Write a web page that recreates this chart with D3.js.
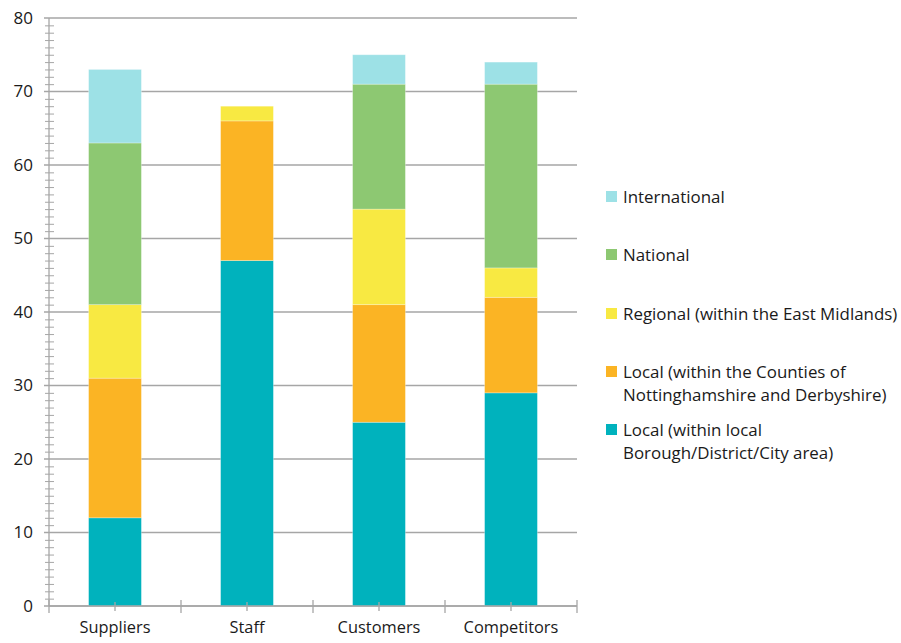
<!DOCTYPE html>
<html><head><meta charset="utf-8">
<script src="https://cdn.jsdelivr.net/npm/d3@7"></script>
<style>body{margin:0;background:#fff}svg{display:block}</style>
</head><body>
<svg id="c" width="901" height="643"></svg>
<script>
const categories = ["Suppliers", "Staff", "Customers", "Competitors"];
const seriesNames = [
  "Local (within local Borough/District/City area)",
  "Local (within the Counties of Nottinghamshire and Derbyshire)",
  "Regional (within the East Midlands)",
  "National",
  "International"
];
const localBorough = [12, 47, 25, 29];
const localCounty = [19, 19, 16, 13];
const regional = [10, 2, 13, 4];
const national = [22, 0, 17, 25];
const international = [10, 0, 4, 3];
const colors = ["#00b2bd", "#fbb424", "#f8e942", "#8dc872", "#9de1e6"];
const legendLines = [
  ["Local (within local", "Borough/District/City area)"],
  ["Local (within the Counties of", "Nottinghamshire and Derbyshire)"],
  ["Regional (within the East Midlands)"],
  ["National"],
  ["International"]
];
const yTicks = [0, 10, 20, 30, 40, 50, 60, 70, 80];

const seriesValues = [localBorough, localCounty, regional, national, international];
const rows = categories.map((c, i) => {
  const r = {cat: c};
  seriesNames.forEach((s, j) => r[s] = seriesValues[j][i]);
  return r;
});
const stacked = d3.stack().keys(seriesNames)(rows);

const svg = d3.select("#c");
const font = "'Open Sans', sans-serif";
const L = 49, R = 577, T = 18, B = 606;
const x = d3.scaleBand().domain(categories).range([L, R]).paddingInner(0.6).paddingOuter(0.3);
const xb = d3.scaleBand().domain(categories).range([L, R]);
const y = d3.scaleLinear().domain([0, 80]).range([B, T]);

// gridlines
svg.append("g").selectAll("line").data(yTicks).join("line")
  .attr("x1", L - 5).attr("x2", R).attr("y1", d => y(d)).attr("y2", d => y(d))
  .attr("stroke", "#a6a6a6").attr("stroke-width", 1.3);
// minor ticks
svg.append("g").selectAll("line").data(d3.range(0, 81).filter(d => d % 10 !== 0)).join("line")
  .attr("x1", L - 4).attr("x2", L + 5).attr("y1", d => y(d) + 0.5).attr("y2", d => y(d) + 0.5)
  .attr("stroke", "#a6a6a6").attr("stroke-width", 1);

// bars
svg.append("g").selectAll("g").data(stacked).join("g")
  .attr("fill", (d, i) => colors[i])
  .selectAll("rect").data(d => d).join("rect")
  .attr("x", d => x(d.data.cat)).attr("width", x.bandwidth())
  .attr("y", d => y(d[1])).attr("height", d => y(d[0]) - y(d[1]))
  .attr("stroke", "#ffffff").attr("stroke-opacity", 0.35).attr("stroke-width", 0.8);

// y axis line
svg.append("line").attr("x1", L).attr("x2", L).attr("y1", T).attr("y2", B)
  .attr("stroke", "#a6a6a6").attr("stroke-width", 1.3);
// x axis line
svg.append("line").attr("x1", L).attr("x2", R).attr("y1", B).attr("y2", B)
  .attr("stroke", "#a6a6a6").attr("stroke-width", 1.3);
// x boundary ticks
const bounds = categories.map(c => xb(c)).concat([R]);
svg.append("g").selectAll("line").data(bounds).join("line")
  .attr("x1", d => d).attr("x2", d => d).attr("y1", B - 6).attr("y2", B + 7)
  .attr("stroke", "#a6a6a6").attr("stroke-width", 1.3);
svg.append("g").selectAll("line").data(categories).join("line")
  .attr("x1", d => xb(d) + xb.bandwidth() / 2).attr("x2", d => xb(d) + xb.bandwidth() / 2)
  .attr("y1", B - 4).attr("y2", B + 5)
  .attr("stroke", "#a6a6a6").attr("stroke-width", 1.3);

// y labels
svg.append("g").selectAll("text").data(yTicks).join("text")
  .attr("x", 33).attr("y", d => y(d)).attr("dy", "0.35em").attr("text-anchor", "end")
  .attr("font-family", font).attr("font-size", 17).attr("fill", "#1a1a1a").text(d => d);
// x labels
svg.append("g").selectAll("text").data(categories).join("text")
  .attr("x", d => xb(d) + xb.bandwidth() / 2).attr("y", 633).attr("text-anchor", "middle")
  .attr("font-family", font).attr("font-size", 16.4).attr("fill", "#1a1a1a").text(d => d);

// legend
const legendY = [430, 372, 314, 255, 197];
const lg = svg.append("g").selectAll("g").data(seriesNames).join("g")
  .attr("transform", (d, i) => `translate(606,${legendY[i]})`);
lg.append("rect").attr("x", 0).attr("y", -6).attr("width", 11).attr("height", 11)
  .attr("fill", (d, i) => colors[i]);
lg.append("text").attr("font-family", font).attr("font-size", 16.9).attr("fill", "#1a1a1a")
  .selectAll("tspan").data((d, i) => legendLines[i]).join("tspan")
  .attr("x", 17).attr("y", (d, k) => k * 23).attr("dy", "0.35em").text(d => d);
</script>
</body></html>
